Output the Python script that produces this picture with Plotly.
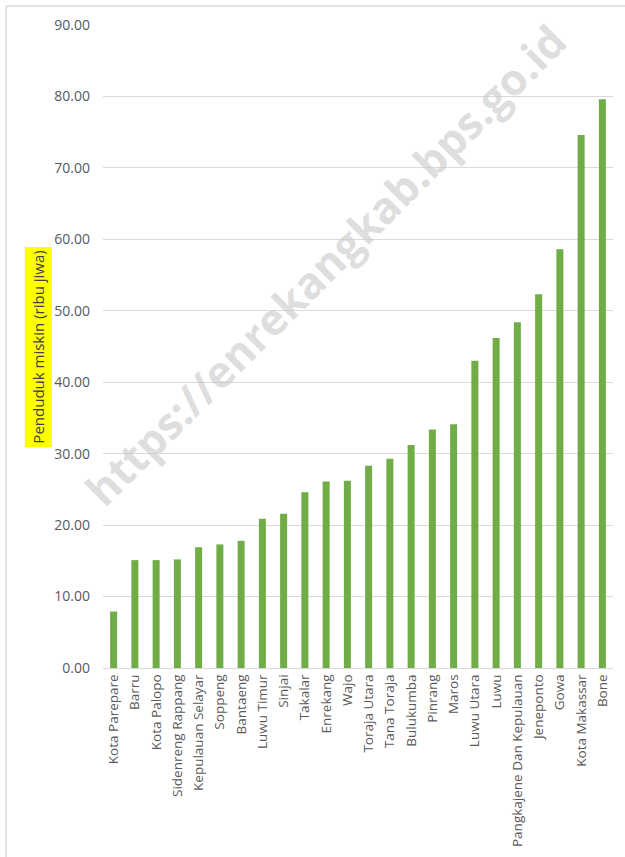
import plotly.graph_objects as go

# Data: penduduk miskin (ribu jiwa) per kabupaten/kota
kabupaten = [
    "Kota Parepare", "Barru", "Kota Palopo", "Sidenreng Rappang", "Kepulauan Selayar",
    "Soppeng", "Bantaeng", "Luwu Timur", "Sinjai", "Takalar", "Enrekang", "Wajo",
    "Toraja Utara", "Tana Toraja", "Bulukumba", "Pinrang", "Maros", "Luwu Utara",
    "Luwu", "Pangkajene Dan Kepulauan", "Jeneponto", "Gowa", "Kota Makassar", "Bone",
]
penduduk_miskin = [
    7.9, 15.1, 15.1, 15.2, 16.9, 17.3, 17.8, 20.9, 21.6, 24.6, 26.1, 26.2,
    28.3, 29.3, 31.2, 33.4, 34.1, 43.0, 46.2, 48.4, 52.3, 58.6, 74.6, 79.6,
]
y_ticks = [0, 10, 20, 30, 40, 50, 60, 70, 80, 90]

HIJAU = "#70AD47"
TEKS = "#595959"
GRID = "#D9D9D9"

fig = go.Figure()

fig.add_trace(go.Bar(
    x=kabupaten,
    y=penduduk_miskin,
    marker_color=HIJAU,
    marker_line_width=0,
    width=0.33,
))

# watermark
fig.add_annotation(
    text="https://enrekangkab.bps.go.id",
    xref="paper", yref="paper",
    x=0.437, y=0.627,
    xanchor="center", yanchor="middle",
    showarrow=False,
    textangle=-45,
    font=dict(family="Open Sans", size=43.5, color="rgba(200,200,200,0.6)", weight="bold"),
)

# judul sumbu y dengan latar kuning
fig.add_annotation(
    text="Penduduk miskin (ribu jiwa)",
    xref="paper", yref="paper",
    x=-0.1265, y=0.499,
    xanchor="center", yanchor="middle",
    showarrow=False,
    textangle=-90,
    bgcolor="#FFFF00",
    borderpad=3,
    font=dict(family="Open Sans", size=15, color="#404040"),
)

# bingkai luar (hanya kiri dan atas yang terlihat)
fig.add_shape(
    type="line", xref="paper", yref="paper",
    x0=-0.190, x1=-0.190, y0=-0.3, y1=1.0295,
    line=dict(color=GRID, width=1.5),
)
fig.add_shape(
    type="line", xref="paper", yref="paper",
    x0=-0.190, x1=1.03, y0=1.0295, y1=1.0295,
    line=dict(color=GRID, width=1.5),
)

fig.update_layout(
    width=625,
    height=857,
    paper_bgcolor="white",
    plot_bgcolor="white",
    margin=dict(l=103, r=12, t=25, b=189),
    showlegend=False,
    font=dict(family="Open Sans", size=13, color=TEKS),
    xaxis=dict(
        tickangle=-90,
        showgrid=False,
        showline=True,
        linecolor=GRID,
        ticks="",
        automargin=False,
        tickfont=dict(size=13.5, color=TEKS),
    ),
    yaxis=dict(
        range=[0, 90],
        tickvals=y_ticks,
        tickformat=".2f",
        gridcolor=GRID,
        zeroline=False,
        ticks="",
        automargin=False,
        ticklabelstandoff=12,
        tickfont=dict(size=14, color=TEKS),
    ),
)

fig.write_html(
    "out.html",
    config={"displayModeBar": False},
    post_script="document.body.style.margin='0';",
)
